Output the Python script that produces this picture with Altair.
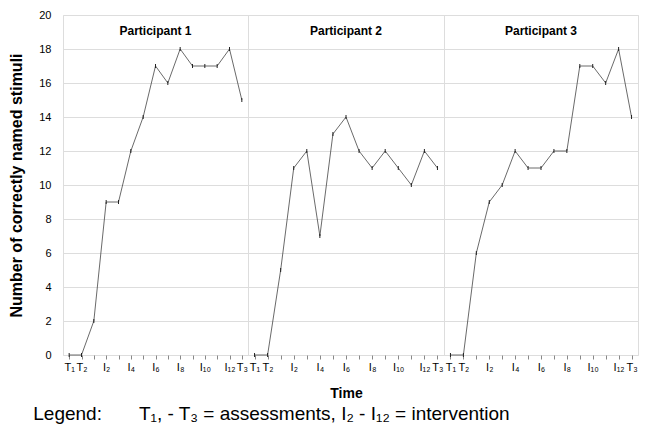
import altair as alt
import pandas as pd

FONT = "Liberation Sans"

participants = ["Participant 1", "Participant 2", "Participant 3"]
slots = list(range(15))
tick_labels = ["T₁", "T₂", "", "I₂", "", "I₄", "", "I₆", "", "I₈", "", "I₁₀", "", "I₁₂", "T₃"]
p1 = [0, 0, 2, 9, 9, 12, 14, 17, 16, 18, 17, 17, 17, 18, 15]
p2 = [0, 0, 5, 11, 12, 7, 13, 14, 12, 11, 12, 11, 10, 12, 11]
p3 = [0, 0, 6, 9, 10, 12, 11, 11, 12, 12, 17, 17, 16, 18, 14]
series = [p1, p2, p3]
y_ticks = list(range(0, 21, 2))

panel_widths = [185, 196, 194]
H = 340

label_expr = "[" + ",".join("'" + t + "'" for t in tick_labels) + "][datum.value]"
legend_text = "Legend:" + "\u00a0" * 7 + "T₁, - T₃ = assessments, I₂ - I₁₂ = intervention"


def panel(i):
    w = panel_widths[i]
    df = pd.DataFrame({"slot": slots, "score": series[i]})
    x_axis = alt.Axis(
        values=slots, labelExpr=label_expr, grid=False, ticks=True, tickSize=4,
        labelFlush=False, labelOverlap=False, labelPadding=2, labelFontSize=11,
        domain=False, title="Time" if i == 1 else None,
        titleFontSize=14, titleFontWeight="bold", titlePadding=14,
    )
    if i == 0:
        y_axis = alt.Axis(
            values=y_ticks, grid=True, ticks=False, domain=False,
            labelFontSize=11, labelPadding=12, labelOverlap=False,
            title="Number of correctly named stimuli", titleFontSize=16,
            titleFontWeight="bold", titlePadding=14,
        )
    else:
        y_axis = alt.Axis(values=y_ticks, grid=True, ticks=False, domain=False,
                          labels=False, title=None)
    x = alt.X("slot:Q", scale=alt.Scale(domain=[-0.5, 14.5], nice=False, zero=False), axis=x_axis)
    y = alt.Y("score:Q", scale=alt.Scale(domain=[0, 20], nice=False, zero=True), axis=y_axis)
    base = alt.Chart(df).encode(x=x, y=y)
    line = base.mark_line(color="#444444", strokeWidth=0.8)
    pts = base.mark_point(shape="M0,-1L0,1", size=16, color="#222222",
                          strokeWidth=1, filled=False, opacity=1)
    title = alt.Chart(pd.DataFrame({"name": [participants[i]]})).mark_text(
        font=FONT, fontSize=12, fontWeight="bold", baseline="middle", align="center", color="#000"
    ).encode(x=alt.value(w / 2), y=alt.value(16), text="name:N")
    return alt.layer(line, pts, title).properties(width=w, height=H)


chart = alt.hconcat(panel(0), panel(1), panel(2), spacing=0, bounds="flush").properties(
    title=alt.TitleParams(
        text=legend_text, orient="bottom", anchor="start", fontSize=19,
        fontWeight="normal", font=FONT, color="#000", dx=25, offset=4,
    )
).configure_view(
    stroke="#999999", strokeWidth=1
).configure_axis(
    gridColor="#a6a6a6", gridWidth=1, tickColor="#888888", domainColor="#999999",
    labelFont=FONT, titleFont=FONT, labelColor="#111111", titleColor="#000000",
).configure(padding=0)

chart.save("out.html", embed_options={"renderer": "svg", "actions": False})
